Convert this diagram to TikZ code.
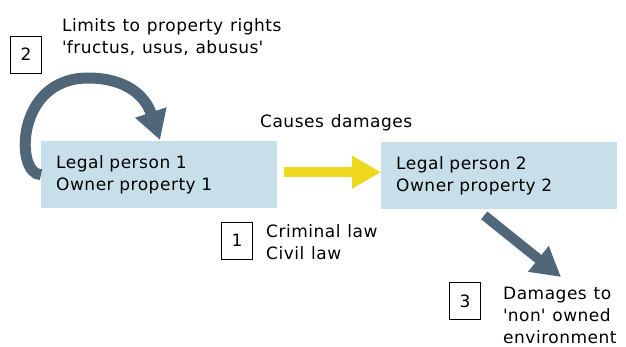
\documentclass[tikz,border=0pt]{standalone}
\usepackage{fontspec}
\setmainfont{DejaVu Sans}[LetterSpace=3, WordSpace=1.15]
\usepackage{xcolor}
\usetikzlibrary{arrows.meta,positioning}
\definecolor{boxblue}{HTML}{C6DFE9}
\definecolor{slate}{HTML}{506779}
\definecolor{sun}{HTML}{EFD91F}
\newcommand{\q}{\textquotesingle}

\begin{document}
\begin{tikzpicture}[x=1pt, y=1pt, font=\fontsize{17}{22}\selectfont,
	person/.style={fill=boxblue, minimum height=67pt, text width=206pt, inner xsep=15pt, align=left},
	num/.style={draw, line width=0.8pt, minimum width=31pt, minimum height=37pt, inner sep=0pt},
	txt/.style={anchor=west, align=left, inner sep=0pt},
	bigarrow/.style={line width=10pt, -{Triangle[length=29pt, width=31pt]}}]
	\useasboundingbox (0,0) rectangle (626,-347);
	% persons
	\node[person, anchor=north west] (lp1) at (41,-141) {Legal person 1\\Owner property 1};
	\node[person, anchor=north west] (lp2) at (381,-142) {Legal person 2\\Owner property 2};
	% labels
	\node[num] (n2) at (26,-54.5) {2};
	\node[txt] (limits) at (62,-37.5) {Limits to property rights\\\q fructus, usus, abusus\q};
	\node[txt] (causes) at (260,-123) {Causes damages};
	\node[num] (n1) at (237,-240.5) {1};
	\node[txt] (law) at (266,-242.5) {Criminal law\\Civil law};
	\node[num] (n3) at (465,-301) {3};
	\node[txt] (env) at (503,-315) {Damages to\\\q non\q\ owned\\environment};
	\coordinate (hit) at (561,-277);
	% arrows
	\draw[bigarrow, slate, line width=11pt] (lp1.west) .. controls (15,-175) and (15,-78) .. (88,-78)
		.. controls (125,-78) and (145,-95) .. (160,-140);
	\draw[bigarrow, sun, shorten <=7pt] ([yshift=2.5pt]lp1.east) -- ([yshift=2.5pt]lp1.east -| lp2.west);
	\draw[bigarrow, slate] ([xshift=-15pt,yshift=-6pt]lp2.south) -- (hit);
\end{tikzpicture}
\end{document}
